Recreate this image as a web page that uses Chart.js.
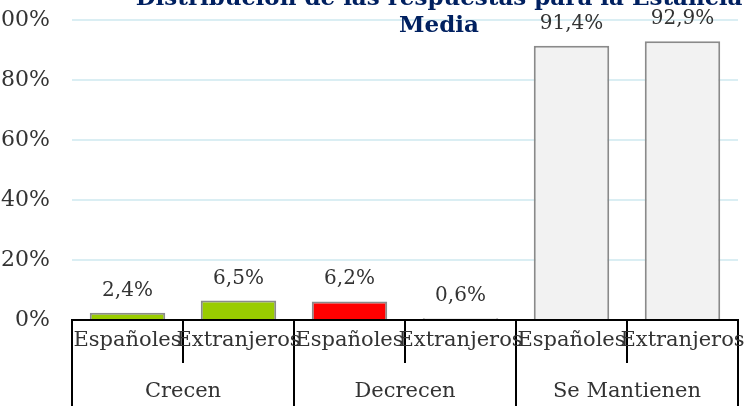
<!DOCTYPE html>
<html>
<head>
<meta charset="utf-8">
<script src="https://cdn.jsdelivr.net/npm/chart.js@4.4.1/dist/chart.umd.min.js"></script>
<style>
  html, body { margin: 0; padding: 0; overflow: hidden; background: #fff; width: 745px; height: 406px; }
  #wrap { position: absolute; left: -30px; top: 0; width: 938px; height: 440px; }
</style>
</head>
<body>
<div id="wrap"><canvas id="c" width="938" height="440"></canvas></div>
<script>
const titleLines = ['Distribución de las respuestas para la Estancia', 'Media'];
const categories = ['Españoles', 'Extranjeros', 'Españoles', 'Extranjeros', 'Españoles', 'Extranjeros'];
const groups = ['Crecen', 'Decrecen', 'Se Mantienen'];
const values = [2.4, 6.5, 6.2, 0.6, 91.4, 92.9];
const barColors = ['#99CC00', '#99CC00', '#FF0000', '#F2F2F2', '#F2F2F2', '#F2F2F2'];

const SERIF = '"DejaVu Serif", serif';
const TXT = '#333333';

const fmt = v => v.toFixed(1).replace('.', ',') + '%';

const extras = {
  id: 'extras',
  afterDatasetsDraw(chart) {
    const ctx = chart.ctx;
    const meta = chart.getDatasetMeta(0);
    ctx.save();
    ctx.fillStyle = TXT;
    ctx.font = '20px ' + SERIF;
    ctx.textAlign = 'center';
    ctx.textBaseline = 'alphabetic';
    meta.data.forEach((bar, i) => {
      ctx.fillText(fmt(values[i]), bar.x, bar.y - 17);
    });
    ctx.restore();
  },
  afterDraw(chart) {
    const ctx = chart.ctx;
    const xs = chart.scales.x;
    const area = chart.chartArea;
    const n = categories.length;
    const edge = i => xs.getPixelForValue(i - 0.5);
    ctx.save();
    ctx.strokeStyle = '#000';
    ctx.lineWidth = 2;
    ctx.beginPath();
    ctx.moveTo(edge(0) - 1, area.bottom);
    ctx.lineTo(edge(n) + 1, area.bottom);
    for (let i = 0; i <= n; i++) {
      const x = edge(i);
      ctx.moveTo(x, area.bottom);
      ctx.lineTo(x, i % 2 === 0 ? chart.height : area.bottom + 43);
    }
    ctx.stroke();
    ctx.fillStyle = TXT;
    ctx.font = '21px ' + SERIF;
    ctx.textAlign = 'center';
    ctx.textBaseline = 'middle';
    categories.forEach((c, i) => {
      ctx.fillText(c, xs.getPixelForValue(i), area.bottom + 21);
    });
    groups.forEach((g, j) => {
      ctx.fillText(g, (edge(2 * j) + edge(2 * j + 2)) / 2, area.bottom + 72);
    });
    // title
    ctx.fillStyle = '#002060';
    ctx.font = 'bold 23px ' + SERIF;
    ctx.textBaseline = 'alphabetic';
    ctx.fillText(titleLines[0], chart.width / 2, 5);
    ctx.fillText(titleLines[1], chart.width / 2, 32);
    ctx.restore();
  }
};

new Chart(document.getElementById('c'), {
  type: 'bar',
  data: {
    labels: categories,
    datasets: [{
      data: values,
      backgroundColor: barColors,
      borderColor: '#8A8A8A',
      borderWidth: 2,
      barPercentage: 0.68,
      categoryPercentage: 1
    }]
  },
  options: {
    responsive: false,
    devicePixelRatio: 1,
    animation: false,
    layout: { padding: { top: 20, right: 170, left: 0, bottom: 0 } },
    plugins: { legend: { display: false }, title: { display: false }, tooltip: { enabled: false } },
    scales: {
      x: {
        ticks: { display: false },
        grid: { display: false },
        border: { display: false },
        afterFit: s => { s.height = 120; s.paddingLeft = 0; s.paddingRight = 0; }
      },
      y: {
        min: 0, max: 100,
        ticks: {
          stepSize: 20,
          padding: 22,
          color: TXT,
          font: { family: SERIF, size: 22 },
          callback: v => v + '%'
        },
        grid: { color: '#DAEEF3', lineWidth: 2, drawTicks: false },
        border: { display: false },
        afterFit: s => { s.width = 102; s.paddingTop = 0; s.paddingBottom = 0; }
      }
    }
  },
  plugins: [extras]
});
</script>
</body>
</html>
